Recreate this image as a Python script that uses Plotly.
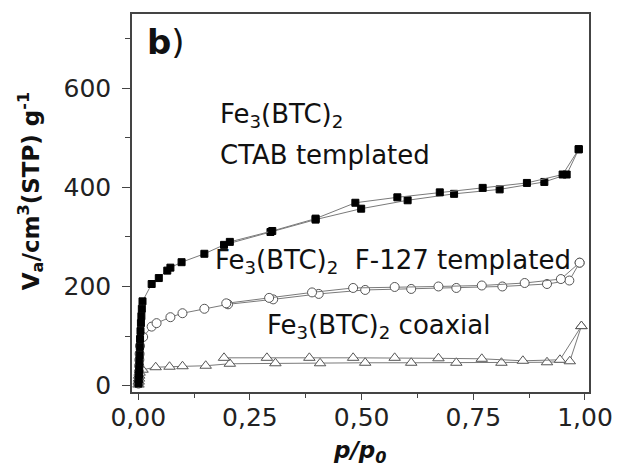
import plotly.graph_objects as go

# CTAB templated (filled squares)
ctab_ads_x = [0.0005, 0.001, 0.0015, 0.002, 0.0025, 0.003, 0.0035, 0.004, 0.005, 0.006, 0.007, 0.008, 0.0095,
              0.030, 0.046, 0.065, 0.072, 0.097, 0.148, 0.192, 0.296, 0.397, 0.499, 0.603, 0.707, 0.809, 0.909, 0.959, 0.986]
ctab_ads_y = [4, 12, 22, 34, 48, 62, 78, 94, 110, 126, 140, 155, 170,
              205, 217, 232, 238, 249, 266, 284, 310, 335, 357, 374, 387, 396, 411, 426, 477]
ctab_des_x = [0.986, 0.950, 0.870, 0.771, 0.675, 0.580, 0.486, 0.397, 0.300, 0.205]
ctab_des_y = [477, 426, 409, 399, 390, 380, 369, 337, 312, 290]

# F-127 templated (open circles)
f127_ads_x = [0.0005, 0.001, 0.0015, 0.002, 0.0025, 0.003, 0.004,
              0.011, 0.030, 0.041, 0.072, 0.099, 0.148, 0.201, 0.302, 0.404, 0.508, 0.611, 0.712, 0.815, 0.915, 0.965, 0.988]
f127_ads_y = [4, 16, 28, 40, 52, 64, 80,
              98, 119, 126, 138, 146, 155, 164, 174, 185, 193, 195, 197, 200, 205, 212, 248]
f127_des_x = [0.988, 0.946, 0.865, 0.769, 0.672, 0.574, 0.481, 0.389, 0.293, 0.197]
f127_des_y = [248, 215, 207, 202, 200, 199, 197, 188, 177, 166]

# coaxial (open triangles)
coax_ads_x = [0.0005, 0.001, 0.0015, 0.002, 0.003,
              0.0095, 0.039, 0.070, 0.099, 0.151, 0.205, 0.307, 0.407, 0.508, 0.611, 0.712, 0.813, 0.915, 0.966, 0.992]
coax_ads_y = [2, 8, 14, 20, 26,
              32, 37, 38, 39, 40, 44, 45, 45, 46, 46, 46, 46, 47, 49, 120]
coax_des_x = [0.992, 0.944, 0.861, 0.769, 0.672, 0.574, 0.481, 0.383, 0.288, 0.192]
coax_des_y = [120, 52, 50, 54, 55, 56, 56, 56, 56, 56]

x_ticks = [0, 0.25, 0.5, 0.75, 1.0]
y_ticks = [0, 200, 400, 600]

FONT = "DejaVu Sans"
LINE = "#7a7a7a"

fig = go.Figure()

def add(x, y, symbol, fill, size):
    fig.add_trace(go.Scatter(
        x=x, y=y, mode="lines+markers",
        line=dict(color=LINE, width=1),
        marker=dict(symbol=symbol, size=size, color=fill,
                    line=dict(color="#555555" if fill == "white" else "#000000", width=1)),
        showlegend=False))

add(coax_ads_x, coax_ads_y, "triangle-up", "white", 10)
add(coax_des_x, coax_des_y, "triangle-up", "white", 10)
add(f127_ads_x, f127_ads_y, "circle", "white", 9)
add(f127_des_x, f127_des_y, "circle", "white", 9)
add(ctab_ads_x, ctab_ads_y, "square", "black", 7)
add(ctab_des_x, ctab_des_y, "square", "black", 7)

axis_common = dict(showline=True, linecolor="#444444", linewidth=1.5, mirror=True,
                   ticks="outside", tickcolor="#444444", tickwidth=1.2,
                   showgrid=False, zeroline=False,
                   tickfont=dict(family=FONT, size=25, color="#222222"))

fig.update_xaxes(range=[-0.014, 1.009], tickvals=x_ticks, tickformat=".2f", ticklen=6,
                 ticklabelstandoff=-4,
                 minor=dict(ticks="outside", dtick=0.125, tick0=0, ticklen=4, tickcolor="#444444"),
                 **axis_common)
fig.update_yaxes(range=[-13, 750], tickvals=y_ticks, ticklen=8, ticklabelstandoff=6,
                 minor=dict(ticks="outside", dtick=100, tick0=0, ticklen=5, tickcolor="#444444"),
                 **axis_common)

ann = []
def text(x, y, t, size=26, xref="x", yref="y", angle=0, xanchor="left"):
    ann.append(dict(x=x, y=y, xref=xref, yref=yref, text=t, showarrow=False,
                    xanchor=xanchor, yanchor="middle", textangle=angle,
                    font=dict(family=FONT, size=size, color="#111111")))

text(0.016, 694, "<b>b</b>)", size=34)
text(0.178, 545, "Fe<sub>3</sub>(BTC)<sub>2</sub>")
text(0.178, 465, "CTAB templated")
text(0.168, 250, "Fe<sub>3</sub>(BTC)<sub>2</sub>  F-127 templated")
text(0.283, 119, "Fe<sub>3</sub>(BTC)<sub>2</sub> coaxial")
text(-0.222, 0.53, "<b>V<sub>a</sub>/cm<sup>3</sup>(STP) g<sup>-1</sup></b>", size=23,
     xref="paper", yref="paper", angle=-90, xanchor="center")
text(0.4995, -0.16, "<b><i>p/p<sub>0</sub></i></b>", size=23,
     xref="paper", yref="paper", xanchor="center")

fig.update_layout(width=625, height=472, margin=dict(l=132, r=30, t=14, b=80),
                  paper_bgcolor="white", plot_bgcolor="white",
                  separators=",.", annotations=ann,
                  font=dict(family=FONT))

fig.write_html("out.html", config={"displayModeBar": False},
               post_script="document.body.style.margin='0';document.body.style.overflow='hidden';")
